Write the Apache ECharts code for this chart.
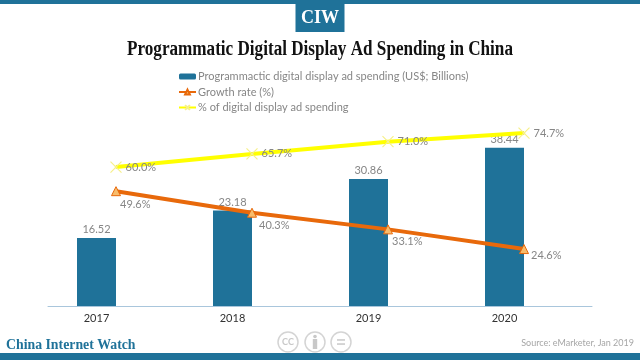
<!DOCTYPE html>
<html><head><meta charset="utf-8">
<style>html,body{margin:0;padding:0;background:#fff}#c{width:640px;height:360px}</style>
<script src="https://cdn.jsdelivr.net/npm/echarts@6/dist/echarts.min.js"></script>
</head><body><div id="c"></div>
<script>
const categories = ['2017','2018','2019','2020'];
const spending = [16.52,23.18,30.86,38.44];
const growth = [49.6,40.3,33.1,24.6];
const share = [60.0,65.7,71.0,74.7];
const seriesNames = ['Programmactic digital display ad spending (US$; Billions)','Growth rate (%)','% of digital display ad spending'];
const growthLabelShift = [[-5,13],[-2,13],[-5,12],[-2,6]];
const teal = '#1f7299', grey = '#868686', font = 'Lato';
const xMark = 'path://M0 0L10 10M10 0L0 10M5 4.4L5.6 5L5 5.6L4.4 5Z';
const chart = echarts.init(document.getElementById('c'), null, {renderer:'canvas'});
chart.setOption({
  animation:false,
  backgroundColor:'#fff',
  textStyle:{fontFamily:font},
  legend:{orient:'vertical',left:173,top:66,itemWidth:17,itemHeight:6,itemGap:4.5,
    data:seriesNames,textStyle:{color:grey,fontSize:11,fontFamily:font,padding:[0,0,0,-3]}},
  grid:[{left:28.5,width:544,top:59,height:247},{left:48,width:544,top:74.5,height:231.5}],
  xAxis:[
    {type:'category',gridIndex:0,data:categories,axisLine:{show:false},axisTick:{show:false},
     axisLabel:{color:'#333',fontSize:11,margin:7,fontFamily:font}},
    {type:'category',gridIndex:1,data:categories,axisLine:{lineStyle:{color:'#a9c6dc',width:1}},axisTick:{show:false},axisLabel:{show:false}}
  ],
  yAxis:[
    {type:'value',gridIndex:0,min:0,max:60,show:false},
    {type:'value',gridIndex:1,min:0,max:100,show:false}
  ],
  series:[
    {name:seriesNames[0],type:'bar',xAxisIndex:0,yAxisIndex:0,data:spending,barWidth:39,
     itemStyle:{color:teal},
     label:{show:true,position:'top',distance:3,color:grey,fontSize:11,formatter:p=>p.value.toFixed(2)}},
    {name:seriesNames[1],type:'line',xAxisIndex:1,yAxisIndex:1,z:4,symbol:'triangle',symbolSize:9,
     lineStyle:{color:'#e8690b',width:4},itemStyle:{color:'#f7bc6c',borderColor:'#e8690b',borderWidth:1},
     data:growth.map((v,i)=>({value:v,label:{offset:growthLabelShift[i]}})),
     label:{show:true,position:'right',distance:4,color:grey,fontSize:11,formatter:p=>p.value.toFixed(1)+'%'}},
    {name:seriesNames[2],type:'line',xAxisIndex:1,yAxisIndex:1,z:3,symbol:xMark,symbolSize:11,
     lineStyle:{color:'#ffff00',width:4},itemStyle:{color:'#ffff00',borderColor:'#f6f08a',borderWidth:1.2},
     data:share,
     label:{show:true,position:'right',distance:3.5,color:grey,fontSize:11,formatter:p=>p.value.toFixed(1)+'%'}}
  ],
  graphic:[
    {type:'rect',shape:{x:0,y:0,width:640,height:4},style:{fill:teal},silent:true},
    {type:'rect',shape:{x:295.5,y:0,width:49,height:32},style:{fill:teal},silent:true},
    {type:'text',x:320,y:18,style:{text:'CIW',fill:'#fff',font:'bold 18px "Liberation Serif"',align:'center',verticalAlign:'middle'}},
    {type:'text',x:320,y:49.5,scaleX:0.856,originX:0,originY:0,style:{text:'Programmatic Digital Display Ad Spending in China',fill:'#111',font:'bold 20px "Liberation Serif"',align:'center',verticalAlign:'middle'}},
    {type:'rect',shape:{x:0,y:353,width:640,height:7},style:{fill:teal},silent:true},
    {type:'text',x:6,y:345.5,style:{text:'China Internet Watch',fill:teal,font:'bold 13.8px "Liberation Serif"',verticalAlign:'middle'}},
    {type:'text',x:634,y:343,style:{text:'Source: eMarketer, Jan 2019',fill:'#a6a6a6',font:'9px Lato',align:'right',verticalAlign:'middle'}},
    {type:'circle',shape:{cx:288,cy:342,r:10},style:{fill:'#fff',stroke:'#d4d4d4',lineWidth:1.5}},
    {type:'text',x:288,y:342,style:{text:'CC',fill:'#c8c8c8',font:'bold 9px Lato',align:'center',verticalAlign:'middle'}},
    {type:'circle',shape:{cx:315,cy:342,r:10},style:{fill:'#fff',stroke:'#d4d4d4',lineWidth:1.5}},
    {type:'circle',shape:{cx:315,cy:336.5,r:1.8},style:{fill:'#c8c8c8'}},
    {type:'rect',shape:{x:312.8,y:339,width:4.4,height:10},style:{fill:'#c8c8c8'}},
    {type:'circle',shape:{cx:341,cy:342,r:10},style:{fill:'#fff',stroke:'#d4d4d4',lineWidth:1.5}},
    {type:'rect',shape:{x:337,y:339.2,width:8,height:1.5},style:{fill:'#c8c8c8'}},
    {type:'rect',shape:{x:337,y:343.3,width:8,height:1.5},style:{fill:'#c8c8c8'}}
  ]
});
</script></body></html>
